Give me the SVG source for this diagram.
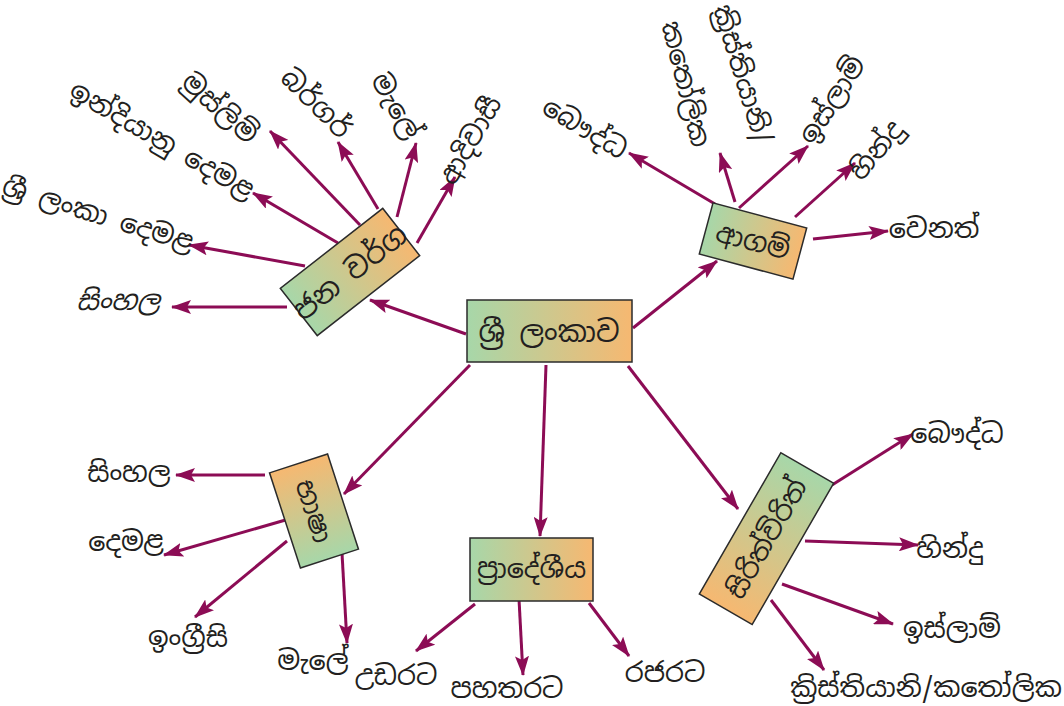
<svg xmlns="http://www.w3.org/2000/svg" width="1064" height="706" viewBox="0 0 1064 706">
<defs>
<linearGradient id="go" x1="0" y1="0" x2="1" y2="0"><stop offset="0" stop-color="#a7d7a9"/><stop offset="1" stop-color="#f6b871"/></linearGradient>
<linearGradient id="og" x1="0" y1="0" x2="1" y2="0"><stop offset="0" stop-color="#f6b871"/><stop offset="1" stop-color="#a7d7a9"/></linearGradient>
<marker id="ah" viewBox="0 0 20 14" refX="19" refY="7" markerWidth="20" markerHeight="14" markerUnits="userSpaceOnUse" orient="auto"><path d="M0,0 L20,7 L0,14 L4,7 z" fill="#8c0c55"/></marker>
<style>
.box{stroke:#2b2b2b;stroke-width:1.5}
.t{font-family:"Noto Sans Sinhala","Noto Serif Sinhala","Iskoola Pota","Noto Sans",sans-serif;font-size:27px;fill:#231f20;text-anchor:middle;dominant-baseline:central}
.bt{font-size:29px}
.c line{stroke:#8c0c55;stroke-width:3;marker-end:url(#ah)}
</style>
</defs>
<rect width="1064" height="706" fill="#fff"/>
<g class="c" id="connectors">
<line x1="466" y1="334" x2="370" y2="300"/>
<line x1="633" y1="328" x2="717" y2="261"/>
<line x1="470" y1="365" x2="344" y2="494"/>
<line x1="546" y1="365" x2="540" y2="536"/>
<line x1="628" y1="366" x2="738" y2="509"/>
<line x1="287" y1="307" x2="172" y2="307"/>
<line x1="305" y1="266" x2="189" y2="245"/>
<line x1="338" y1="243" x2="253" y2="193"/>
<line x1="360" y1="225" x2="270" y2="131"/>
<line x1="378" y1="209" x2="338" y2="142"/>
<line x1="397" y1="217" x2="416" y2="143"/>
<line x1="417" y1="243" x2="455" y2="177"/>
<line x1="715" y1="204" x2="629" y2="153"/>
<line x1="735" y1="202" x2="720" y2="153"/>
<line x1="739" y1="208" x2="808" y2="146"/>
<line x1="795" y1="217" x2="855" y2="163"/>
<line x1="813" y1="239" x2="888" y2="231"/>
<line x1="265" y1="475" x2="176" y2="475"/>
<line x1="289" y1="519" x2="164" y2="555"/>
<line x1="287" y1="541" x2="195" y2="617"/>
<line x1="342" y1="553" x2="347" y2="643"/>
<line x1="475" y1="604" x2="416" y2="651"/>
<line x1="519" y1="599" x2="523" y2="675"/>
<line x1="589" y1="603" x2="629" y2="656"/>
<line x1="832" y1="485" x2="913" y2="434"/>
<line x1="805" y1="541" x2="918" y2="545"/>
<line x1="782" y1="584" x2="893" y2="624"/>
<line x1="771" y1="600" x2="824" y2="670"/>
</g>
<g id="n-center">
<rect class="box" x="467" y="300" width="165" height="62" fill="url(#go)"/>
<text class="t bt" x="549" y="331">ශ්‍රී ලංකාව</text>
</g>
<g id="n-janavarga" transform="translate(350,272) rotate(-38)">
<rect class="box" x="-65" y="-30" width="130" height="60" fill="url(#go)"/>
<text class="t bt" x="0" y="0">ජන වර්ග</text>
</g>
<g id="n-agam" transform="translate(753,241) rotate(15)">
<rect class="box" x="-48.5" y="-26.5" width="97" height="53" fill="url(#go)"/>
<text class="t" x="0" y="0">ආගම්</text>
</g>
<g id="n-bhasha" transform="translate(314,511) rotate(72)">
<rect class="box" x="-50" y="-30.5" width="100" height="61" fill="url(#og)"/>
<text class="t" x="0" y="0">භාෂා</text>
</g>
<g id="n-pradeshiya">
<rect class="box" x="470" y="538" width="123" height="63" fill="url(#go)"/>
<text class="t" x="531.5" y="568">ප්‍රාදේශීය</text>
</g>
<g id="n-sirith" transform="translate(766.5,538.6) rotate(-60)">
<rect class="box" x="-81.5" y="-30.5" width="163" height="61" fill="url(#og)"/>
<text class="t" x="0" y="0">සිරිත්විරිත්</text>
</g>
<g id="l-sinhala1"><text class="t" transform="translate(118,300)" font-style="italic">සිංහල</text></g>
<g id="l-sltamil"><text class="t" font-size="25" transform="translate(98,214) rotate(17)">ශ්‍රී ලංකා දෙමළ</text></g>
<g id="l-indtamil"><text class="t" transform="translate(162,140) rotate(30)">ඉන්දියානු දෙමළ</text></g>
<g id="l-muslim"><text class="t" transform="translate(220,108) rotate(42)">මුස්ලිම්</text></g>
<g id="l-burgher"><text class="t" transform="translate(316,103) rotate(45)">බර්ගර්</text></g>
<g id="l-malay1"><text class="t" transform="translate(396,106) rotate(60)">මැලේ</text></g>
<g id="l-adivasi"><text class="t" transform="translate(470,140) rotate(-60)">ආදිවාසී</text></g>
<g id="l-buddha1"><text class="t" transform="translate(585,128) rotate(31)">බෞද්ධ</text></g>
<g id="l-catholic1"><text class="t" transform="translate(686,84) rotate(76)">කතෝලික</text></g>
<g id="l-christian1"><text class="t" font-size="25" transform="translate(743,74) rotate(73)">ක්‍රිස්තියානි/</text></g>
<g id="l-islam1"><text class="t" transform="translate(832,100) rotate(-57)">ඉස්ලාම්</text></g>
<g id="l-hindu1"><text class="t" transform="translate(876,150) rotate(-50)">හින්දු</text></g>
<g id="l-other"><text class="t" transform="translate(934,228)">වෙනත්</text></g>
<g id="l-sinhala2"><text class="t" transform="translate(129,472)">සිංහල</text></g>
<g id="l-tamil2"><text class="t" transform="translate(126,541)">දෙමළ</text></g>
<g id="l-english"><text class="t" transform="translate(188,637)">ඉංග්‍රීසි</text></g>
<g id="l-malay2"><text class="t" transform="translate(313,660)">මැලේ</text></g>
<g id="l-udarata"><text class="t" transform="translate(396,675)">උඩරට</text></g>
<g id="l-pahatharata"><text class="t" font-size="26" transform="translate(507,688)">පහතරට</text></g>
<g id="l-rajarata"><text class="t" transform="translate(665,672)">රජරට</text></g>
<g id="l-buddha2"><text class="t" transform="translate(957,433)">බෞද්ධ</text></g>
<g id="l-hindu2"><text class="t" transform="translate(950,548)">හින්දු</text></g>
<g id="l-islam2"><text class="t" transform="translate(952,628)">ඉස්ලාම්</text></g>
<g id="l-christian2"><text class="t" transform="translate(926,687)">ක්‍රිස්තියානි/කතෝලික</text></g>
</svg>
